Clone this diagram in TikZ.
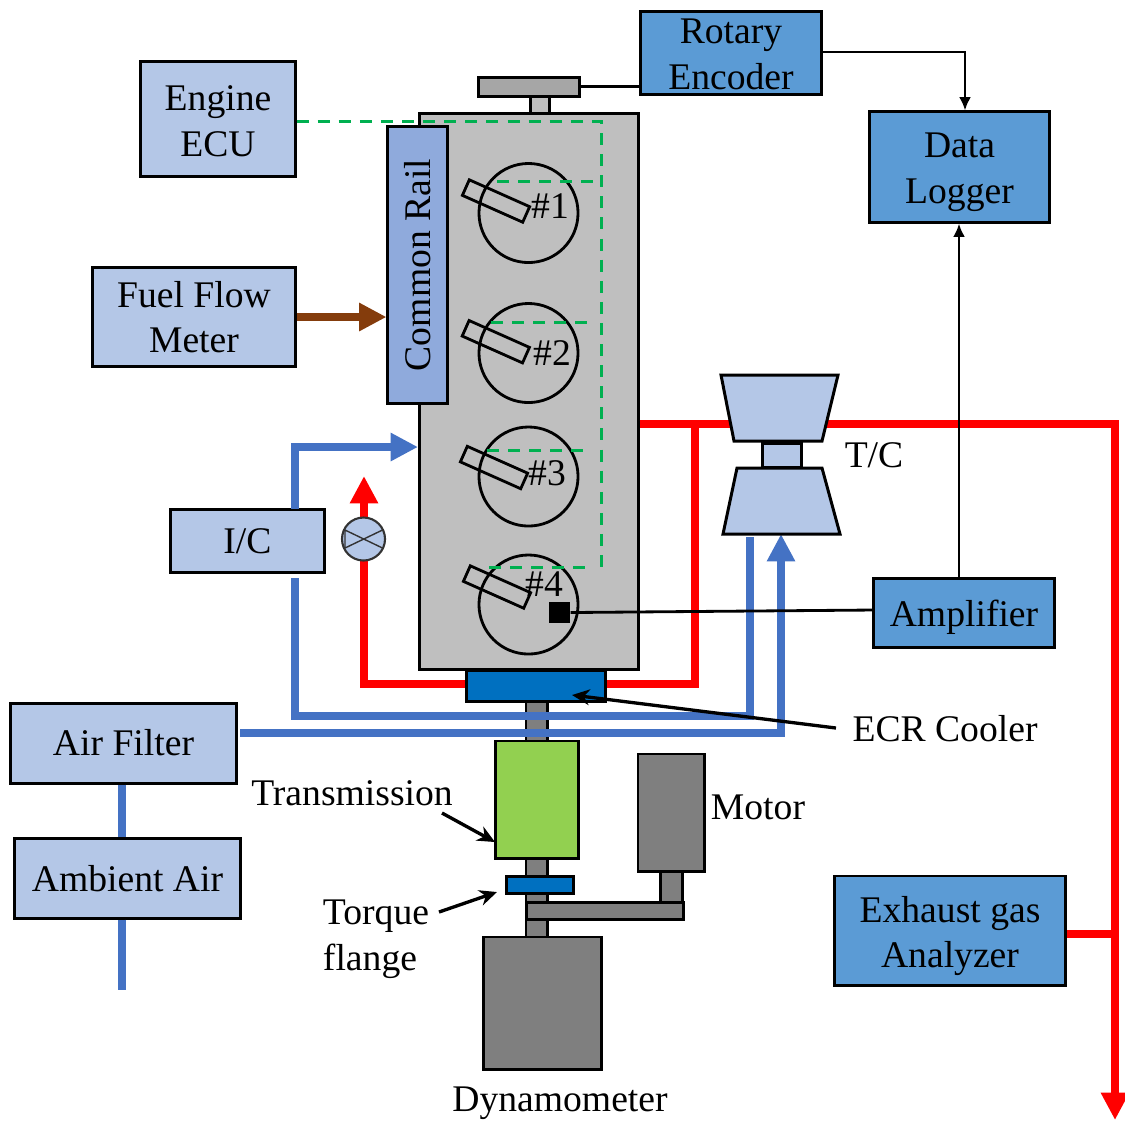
\documentclass[tikz,border=0pt]{standalone}
\usepackage{fontspec}
\setmainfont{Liberation Serif}
\usetikzlibrary{arrows.meta}

\definecolor{paleblue}{HTML}{B4C7E7}
\definecolor{midblue}{HTML}{5B9BD5}
\definecolor{railblue}{HTML}{8FAADC}
\definecolor{pipeblue}{HTML}{4472C4}
\definecolor{coolblue}{HTML}{0070C0}
\definecolor{sigreen}{HTML}{00B050}
\definecolor{leafgreen}{HTML}{92D050}
\definecolor{brownpipe}{HTML}{843C0C}
\definecolor{engray}{HTML}{BFBFBF}
\definecolor{topgray}{HTML}{A6A6A6}
\definecolor{darkgray}{HTML}{7F7F7F}

\tikzset{
  box/.style={draw,line width=.85pt,inner sep=0pt,align=center,
    font=\fontsize{10.7}{13}\selectfont},
  part/.style={draw,line width=.85pt,inner sep=0pt},
  txt/.style={inner sep=0pt,align=center,font=\fontsize{10.7}{13}\selectfont},
  cyl/.style={circle,draw,line width=.8pt,minimum size=.99cm,inner sep=0pt},
  inj/.style={draw,line width=.8pt,minimum width=.66cm,minimum height=.17cm,
    inner sep=0pt,rotate=-24},
  wire/.style={line width=.8pt,color=black},
  smalltip/.style={-{Latex[length=3.8pt,width=3.4pt]}},
  leader/.style={line width=.95pt,color=black,-{Stealth[length=5pt,width=4.5pt]}},
  sig/.style={line width=.85pt,color=sigreen,dash pattern=on 3.4pt off 2.6pt},
  redpipe/.style={line width=2.3pt,color=red},
  bluepipe/.style={line width=2.3pt,color=pipeblue},
  tiphead/.style={-{Triangle[length=7.8pt,width=7.6pt]}}
}

\begin{document}
\begin{tikzpicture}[x=.01cm,y=-.01cm]
\useasboundingbox (0,0) rectangle (1125,1120);

% engine block
\node[part,fill=engray,minimum width=.19cm,minimum height=.2cm] (stem) at (539.5,105) {};
\node[part,fill=topgray,minimum width=1cm,minimum height=.19cm] (pulley) at (529,86.5) {};
\node[part,fill=engray,minimum width=2.18cm,minimum height=5.55cm] (engine) at (529,391.5) {};
\node[box,fill=railblue,rotate=90,minimum width=2.76cm,minimum height=.59cm] (rail) at (417.5,265) {Common Rail};

\node[cyl] (cyl1) at (528.5,213) {};
\node[cyl] (cyl2) at (528.5,353) {};
\node[cyl] (cyl3) at (528.5,476.5) {};
\node[cyl] (cyl4) at (528.5,604.5) {};

\node[inj] (inj1) at (496,201) {};
\node[inj] (inj2) at (495.8,341.7) {};
\node[inj] (inj3) at (494,467.5) {};
\node[inj] (inj4) at (497,587) {};

\node[txt] (no1) at (550,206) {\#1};
\node[txt] (no2) at (552,353) {\#2};
\node[txt] (no3) at (547,473) {\#3};
\node[txt] (no4) at (544,584) {\#4};

\node[fill=black,minimum size=.21cm,inner sep=0pt] (sensor) at (559.5,612.5) {};

% boxes
\node[box,fill=paleblue,minimum width=1.54cm,minimum height=1.14cm,label={[txt,yshift=-.02cm]center:{Engine\\ECU}}] (ecu) at (218,119) {};
\node[box,fill=paleblue,minimum width=2.02cm,minimum height=.98cm] (flow) at (194,317) {Fuel Flow\\Meter};
\node[box,fill=midblue,minimum width=1.8cm,minimum height=.82cm,label={[txt,yshift=-.01cm]center:{Rotary\\Encoder}}] (encoder) at (731,53) {};
\node[box,fill=midblue,minimum width=1.79cm,minimum height=1.1cm,label={[txt,yshift=-.055cm]center:{Data\\Logger}}] (logger) at (959.5,167) {};
\node[box,fill=paleblue,minimum width=1.53cm,minimum height=.63cm,label={[txt,yshift=-.01cm]center:{I/C}}] (ic) at (247.5,540.5) {};
\node[box,fill=midblue,minimum width=1.8cm,minimum height=.69cm,label={[txt,yshift=-.05cm]center:{Amplifier}}] (amp) at (964,612.5) {};
\node[box,fill=midblue,minimum width=2.3cm,minimum height=1.09cm,label={[txt,yshift=-.055cm]center:{Exhaust gas\\Analyzer}}] (analyzer) at (950,930.5) {};
\node[box,fill=paleblue,minimum width=2.25cm,minimum height=.8cm] (filter) at (123.5,743) {Air Filter};
\node[box,fill=paleblue,minimum width=2.25cm,minimum height=.8cm,label={[txt,yshift=-.01cm]center:{Ambient Air}}] (ambient) at (127.5,878) {};

% drive line
\node[part,fill=darkgray,minimum width=.21cm,minimum height=.4cm] (shaftA) at (536.5,721) {};
\node[part,fill=darkgray,minimum width=.21cm,minimum height=.8cm] (shaftB) at (536.5,898) {};
\node[part,fill=leafgreen,minimum width=.82cm,minimum height=1.17cm] (trans) at (537,799.5) {};
\node[part,fill=coolblue,minimum width=.66cm,minimum height=.17cm] (flange) at (540,884.5) {};
\node[part,fill=darkgray,minimum width=.66cm,minimum height=1.17cm] (motor) at (671,812.5) {};
\node[part,fill=darkgray,minimum width=.22cm,minimum height=.31cm] (motshaft) at (671,886.5) {};
\node[part,fill=darkgray,minimum width=1.56cm,minimum height=.17cm] (belt) at (605,910.5) {};
\node[part,fill=darkgray,minimum width=1.17cm,minimum height=1.32cm] (dyno) at (542.5,1003) {};

% pipe points
\coordinate (exA) at (engine.east |- 0,424);
\coordinate (exB) at (695,424);
\coordinate (exC) at (1115,424);
\coordinate (exD) at (1115,1120);
\coordinate (exE) at (1115,934);
\coordinate (egA) at (695,684);
\coordinate (egB) at (364,684);
\coordinate (egC) at (364,476);
\coordinate (coolL) at (467,684);
\coordinate (coolR) at (605,684);
\coordinate (inA) at (295,447);
\coordinate (inB) at (418,447);
\coordinate (icT) at (295,509);
\coordinate (icB) at (295,578);
\coordinate (icC) at (295,716);
\coordinate (tcA) at (750,716);
\coordinate (tcB) at (750,537);
\coordinate (afA) at (240,733);
\coordinate (afB) at (781,733);
\coordinate (afC) at (781,534);
\coordinate (amA) at (122,990);

\draw[redpipe,tiphead] (exA) -- (exC) -- (exD);
\draw[redpipe] (exE) -- (analyzer.east |- exE);
\draw[redpipe] (exB) -- (egA) -- (coolR);
\draw[redpipe,tiphead] (coolL) -- (egB) -- (egC);

\draw[bluepipe,tiphead] (icT) -- (inA) -- (inB);
\draw[bluepipe] (icB) -- (icC) -- (tcA) -- (tcB);
\draw[bluepipe,tiphead] (afA) -- (afB) -- (afC);
\draw[bluepipe] (filter.south -| amA) -- (ambient.north -| amA);
\draw[bluepipe] (ambient.south -| amA) -- (amA);
\draw[line width=2.3pt,color=brownpipe,tiphead] (flow.east) -- (rail.north |- flow.east);

% turbo
\draw[part,fill=paleblue] (721,375) -- (838,375) -- (822,441) -- (734,441) -- cycle;
\node[part,fill=paleblue,minimum width=.39cm,minimum height=.24cm] (tcshaft) at (781.5,455) {};
\draw[part,fill=paleblue] (737,468) -- (822,468) -- (840,534) -- (723,534) -- cycle;
\node[txt] (tclabel) at (874,455) {T/C};

\node[circle,draw=black!80,fill=paleblue,line width=.6pt,minimum size=.43cm,inner sep=0pt] (valve) at (363.5,539) {};
\draw[line width=.4pt,color=black!80] (345,530) -- (382.5,548) (345,548) -- (382.5,530) (345,530) -- (345,548);

\node[part,fill=coolblue,minimum width=1.38cm,minimum height=.31cm] (cooler) at (536,685.5) {};

% signals
\coordinate (sigA) at (601,121);
\coordinate (sigB) at (601,572);
\draw[sig] (ecu.east |- sigA) -- (sigA) -- (sigB);
\draw[sig] (497,181) -- (601,181);
\draw[sig] (491,322) -- (595,322);
\draw[sig] (487,450) -- (585,450);
\draw[sig] (489,567) -- (585,567);

\coordinate (encA) at (965,52);
\coordinate (ampA) at (amp.west |- 0,610);
\draw[wire] (pulley.east) -- (encoder.west |- pulley.east);
\draw[wire,smalltip] (encoder.east |- encA) -- (encA) -- (encA |- logger.north);
\draw[wire,smalltip] (amp.north -| 959,0) -- (logger.south -| 959,0);
\draw[wire] (sensor.east) -- (ampA);

% labels
\node[txt] (ecrlabel) at (945,729) {ECR Cooler};
\node[txt] (motorlabel) at (758,807) {Motor};
\node[txt] (translabel) at (352,793) {Transmission};
\node[txt,align=left] (flangelabel) at (376,939) {Torque\\flange};
\node[txt] (dynolabel) at (560,1103) {Dynamometer};

\coordinate (ecrtip) at (572,695);
\coordinate (transtip) at (495,842);
\coordinate (flangetip) at (497,892);
\draw[leader] (836,728) -- (ecrtip);
\draw[leader] (442,813) -- (transtip);
\draw[leader] (439,912) -- (flangetip);

\end{tikzpicture}
\end{document}
